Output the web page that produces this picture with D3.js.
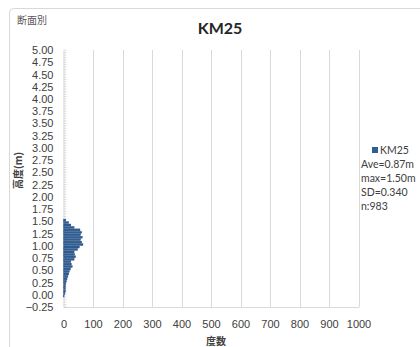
<!DOCTYPE html>
<html>
<head>
<meta charset="utf-8">
<script src="https://cdn.jsdelivr.net/npm/d3@7"></script>
<style>
  html, body { margin: 0; padding: 0; background: #fff; }
  svg { display: block; }
</style>
</head>
<body>
<svg id="chart" width="420" height="347"></svg>
<script>
// Height bins (lower edge, m) and their frequencies
const binEdges = [-0.05, 0.00, 0.05, 0.10, 0.15, 0.20, 0.25, 0.30, 0.35, 0.40,
                  0.45, 0.50, 0.55, 0.60, 0.65, 0.70, 0.75, 0.80, 0.85, 0.90,
                  0.95, 1.00, 1.05, 1.10, 1.15, 1.20, 1.25, 1.30, 1.35, 1.40,
                  1.45, 1.50];
const counts = [2, 5, 7, 7, 7, 8, 10, 12, 15, 18,
                20, 24, 30, 27, 25, 36, 41, 38, 36, 48,
                54, 66, 62, 58, 64, 58, 62, 56, 36, 25,
                18, 8];
const binWidth = 0.05;

const yTicks = [-0.25, 0.00, 0.25, 0.50, 0.75, 1.00, 1.25, 1.50, 1.75, 2.00,
                2.25, 2.50, 2.75, 3.00, 3.25, 3.50, 3.75, 4.00, 4.25, 4.50,
                4.75, 5.00];
const xTicks = [0, 100, 200, 300, 400, 500, 600, 700, 800, 900, 1000];

const seriesName = "KM25";
const statsLines = ["Ave=0.87m", "max=1.50m", "SD=0.340", "n:983"];

const svg = d3.select("#chart");
const numFont = "'Liberation Sans Narrow', 'Liberation Sans', Arial, sans-serif";
const legendFont = "Lato, 'Open Sans', sans-serif";
const cjkFont = "'Noto Sans CJK JP', 'Noto Sans', sans-serif";
const gridColor = "#d9d9d9";
const textColor = "#404040";

// Chart frame
svg.append("rect")
  .attr("x", 9.5).attr("y", 8.5)
  .attr("width", 440).attr("height", 360)
  .attr("rx", 4)
  .attr("fill", "#fff")
  .attr("stroke", gridColor);

const x = d3.scaleLinear().domain([0, 1000]).range([63.5, 358.5]);
const y = d3.scaleLinear().domain([-0.25, 5]).range([307, 50]);

// Vertical gridlines
svg.append("g")
  .selectAll("line")
  .data(xTicks.slice(1))
  .join("line")
  .attr("x1", d => Math.round(x(d)) + 0.5).attr("x2", d => Math.round(x(d)) + 0.5)
  .attr("y1", y(5)).attr("y2", y(-0.25))
  .attr("stroke", gridColor).attr("stroke-width", 1);

// Bottom axis
const xAxis = d3.axisBottom(x)
  .tickValues(xTicks)
  .tickSize(0)
  .tickPadding(13)
  .tickFormat(d3.format("d"));
const gx = svg.append("g")
  .attr("transform", `translate(0,${y(-0.25)})`)
  .call(xAxis);
gx.select(".domain").attr("stroke", gridColor);
gx.selectAll("text")
  .attr("fill", textColor)
  .style("font-family", numFont)
  .style("font-size", "11px");

// Left axis with labelled major ticks
const yAxis = d3.axisLeft(y)
  .tickValues(yTicks)
  .tickSize(0)
  .tickPadding(10)
  .tickFormat(d3.format(".2f"));
const gy = svg.append("g")
  .attr("transform", `translate(${x(0)},0)`)
  .call(yAxis);
gy.select(".domain").attr("stroke", gridColor);
gy.selectAll("text")
  .attr("fill", textColor)
  .style("font-family", numFont)
  .style("font-size", "11px");

// Minor ticks on the height axis, one per bin
const minor = d3.range(0, 106).map(i => -0.25 + i * binWidth);
svg.append("g")
  .selectAll("line")
  .data(minor)
  .join("line")
  .attr("x1", x(0)).attr("x2", x(0) + 3)
  .attr("y1", d => y(d)).attr("y2", d => y(d))
  .attr("stroke", "#c8c8c8").attr("stroke-width", 0.6);

// Histogram bars
const data = binEdges.map((e, i) => ({ edge: e, count: counts[i] }));
svg.append("g")
  .selectAll("rect")
  .data(data)
  .join("rect")
  .attr("x", x(0))
  .attr("y", d => y(d.edge + binWidth) + 0.2)
  .attr("width", d => x(d.count) - x(0))
  .attr("height", d => Math.max(0, y(d.edge) - y(d.edge + binWidth) - 0.4))
  .attr("fill", "#2f5d96")
  .attr("stroke", "#1f446f")
  .attr("stroke-width", 0.3);

// Titles
svg.append("text")
  .attr("x", 17).attr("y", 24)
  .attr("fill", "#595959")
  .style("font-family", cjkFont)
  .style("font-size", "10px")
  .text("断面別");

svg.append("text")
  .attr("x", 220).attr("y", 34)
  .attr("text-anchor", "middle")
  .attr("fill", "#262626")
  .style("font-family", "Lato, 'Open Sans', sans-serif")
  .style("font-weight", "bold")
  .style("font-size", "16px")
  .text(seriesName);

// Axis titles
svg.append("text")
  .attr("transform", `translate(22,${(y(5) + y(-0.25)) / 2 - 8}) rotate(-90)`)
  .attr("text-anchor", "middle")
  .attr("fill", textColor)
  .style("font-family", cjkFont)
  .style("font-size", "10px")
  .style("font-weight", "bold")
  .text("高度(m)");

svg.append("text")
  .attr("x", 216).attr("y", 345)
  .attr("text-anchor", "middle")
  .attr("fill", textColor)
  .style("font-family", cjkFont)
  .style("font-size", "10px")
  .style("font-weight", "bold")
  .text("度数");

// Legend and summary statistics
const lg = svg.append("g");
lg.append("rect")
  .attr("x", 372).attr("y", 147)
  .attr("width", 6).attr("height", 6)
  .attr("fill", "#2f5d96");
lg.append("text")
  .attr("x", 380).attr("y", 154)
  .attr("fill", textColor)
  .style("font-family", legendFont)
  .style("font-size", "10.5px")
  .text(seriesName);
lg.selectAll("text.stat")
  .data(statsLines)
  .join("text")
  .attr("class", "stat")
  .attr("x", 361)
  .attr("y", (d, i) => 168 + i * 14)
  .attr("fill", textColor)
  .style("font-family", legendFont)
  .style("font-size", "10.5px")
  .text(d => d);
</script>
</body>
</html>
